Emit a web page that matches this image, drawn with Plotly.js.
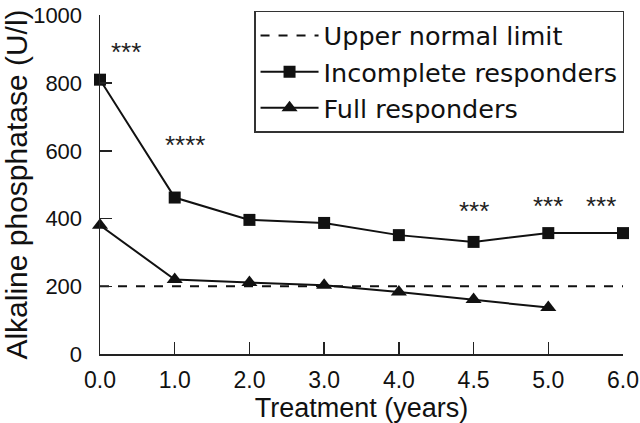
<!DOCTYPE html>
<html>
<head>
<meta charset="utf-8">
<script src="https://cdn.plot.ly/plotly-3.0.1.min.js"></script>
<style>html,body{margin:0;padding:0;background:#fff;}#chart{width:640px;height:423px;}</style>
</head>
<body>
<div id="chart"></div>
<script>
const categories = ['0.0', '1.0', '2.0', '3.0', '4.0', '4.5', '5.0', '6.0'];
const incompleteResponders = [810, 462, 396, 387, 351, 331, 357, 357];
const fullResponders = [380, 220, 211, 203, 183, 161, 137];
const upperNormalLimit = 200;
const yTicks = [0, 200, 400, 600, 800, 1000];
const significance = [
  {x: 0.35, y: 893, text: '***'},
  {x: 1.14, y: 618, text: '****'},
  {x: 5.0, y: 422, text: '***'},
  {x: 6.0, y: 436, text: '***'},
  {x: 6.7, y: 436, text: '***'}
];

const font = 'Liberation Sans, Arial, sans-serif';
const legendFont = 'DejaVu Sans, Liberation Sans, sans-serif';

const traces = [
  {
    name: 'Upper normal limit',
    x: [categories[0], categories[categories.length - 1]],
    y: [upperNormalLimit, upperNormalLimit],
    mode: 'lines',
    line: {color: '#111', width: 2, dash: 'dash'},
    cliponaxis: false
  },
  {
    name: 'Incomplete responders',
    x: categories.slice(0, incompleteResponders.length),
    y: incompleteResponders,
    mode: 'lines+markers',
    line: {color: '#111', width: 2},
    marker: {symbol: 'square', size: 12, color: '#111'},
    cliponaxis: false
  },
  {
    name: 'Full responders',
    x: categories.slice(0, fullResponders.length),
    y: fullResponders,
    mode: 'lines+markers',
    line: {color: '#111', width: 2},
    marker: {symbol: 'triangle-up', size: 14, color: '#111'},
    cliponaxis: false
  }
];

const layout = {
  width: 640,
  height: 423,
  margin: {l: 100, r: 17, t: 11, b: 69},
  paper_bgcolor: '#fff',
  plot_bgcolor: '#fff',
  font: {family: font, color: '#111', size: 22},
  showlegend: true,
  legend: {
    x: 1.002, xanchor: 'right', y: 1.012, yanchor: 'top',
    bordercolor: '#333', borderwidth: 1.5, bgcolor: '#fff',
    font: {family: legendFont, size: 25.5, color: '#111'},
    tracegroupgap: 0,
    itemwidth: 58
  },
  xaxis: {
    type: 'category',
    categoryarray: categories,
    range: [0, categories.length - 1],
    showgrid: false, zeroline: false,
    showline: true, linecolor: '#222', linewidth: 1.5,
    ticks: 'inside', ticklen: 12, tickwidth: 1.5, tickcolor: '#222',
    ticklabelstandoff: 5,
    tickfont: {family: font, size: 23, color: '#111'},
    title: {text: 'Treatment (years)', font: {family: font, size: 27, color: '#111'}, standoff: 4}
  },
  yaxis: {
    range: [0, 1001],
    tickvals: yTicks,
    showgrid: false, zeroline: false,
    showline: true, linecolor: '#222', linewidth: 1.5,
    ticks: 'inside', ticklen: 12, tickwidth: 1.5, tickcolor: '#222',
    ticklabelstandoff: 12,
    ticklabeloverflow: 'allow',
    tickfont: {family: font, size: 22, color: '#111'},
    title: {text: 'Alkaline phosphatase (U/l)', font: {family: font, size: 30, color: '#111'}, standoff: 12}
  },
  annotations: significance.map(s => ({
    x: s.x, y: s.y, xref: 'x', yref: 'y', text: s.text, showarrow: false,
    font: {family: font, size: 26, color: '#222'}
  }))
};

Plotly.newPlot('chart', traces, layout, {displayModeBar: false, staticPlot: true});
</script>
</body>
</html>
